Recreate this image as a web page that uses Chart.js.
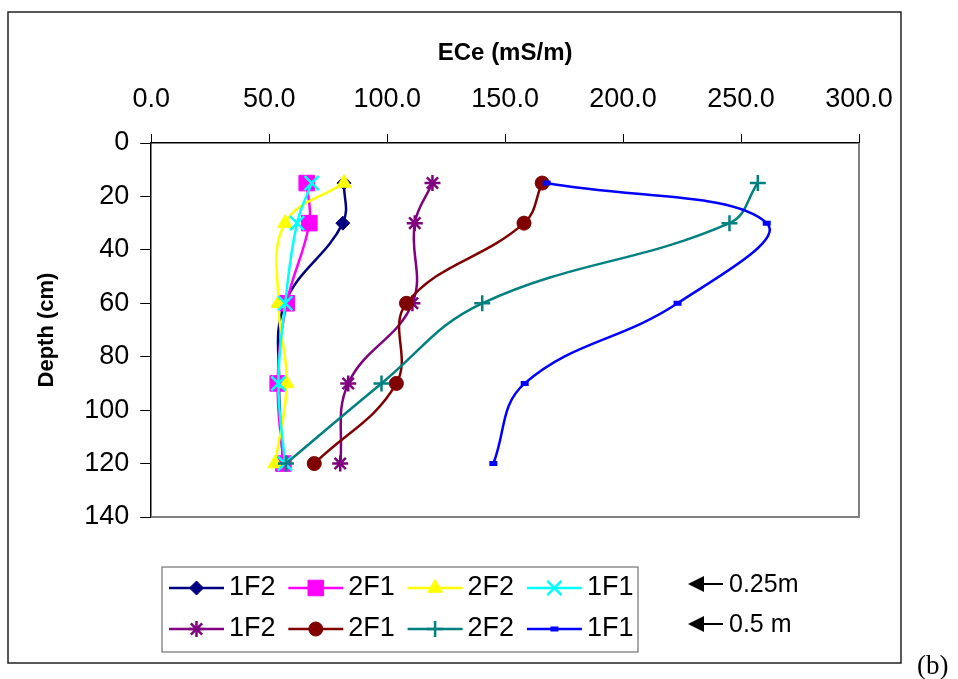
<!DOCTYPE html>
<html>
<head>
<meta charset="utf-8">
<script src="https://cdn.jsdelivr.net/npm/chart.js@4/dist/chart.umd.min.js"></script>
<style>
  html, body { margin: 0; padding: 0; background: #fff; }
  #wrap { position: relative; width: 958px; height: 679px; }
</style>
</head>
<body>
<div id="wrap"><canvas id="ecChart" width="958" height="679"></canvas></div>
<script>
// depth of each sample (cm)
var depths = [15, 30, 60, 90, 120];

// ECe (mS/m), 0.25 m series then 0.5 m series
var ece1F2_025 = [81.7, 81.2, 56.7, 54.2, 55.9];
var ece2F1_025 = [65.9, 67.0, 57.4, 53.6, 56.0];
var ece2F2_025 = [81.7, 56.7, 53.9, 57.4, 52.5];
var ece1F1_025 = [68.0, 61.8, 56.8, 53.9, 56.7];
var ece1F2_05  = [119.2, 111.7, 110.7, 83.5, 80.1];
var ece2F1_05  = [165.7, 158.0, 108.2, 103.9, 69.1];
var ece2F2_05  = [257.1, 245.1, 140.3, 97.6, 57.1];
var ece1F1_05  = [167.6, 260.9, 223.1, 158.3, 145.0];

var seriesNames = ['1F2', '2F1', '2F2', '1F1', '1F2', '2F1', '2F2', '1F1'];
var xTicks = [0, 50, 100, 150, 200, 250, 300];
var yTicks = [0, 20, 40, 60, 80, 100, 120, 140];
var notes = ['0.25m', '0.5 m'];

var FONT = "'Liberation Sans', Arial, sans-serif";

function pts(vals) {
  return vals.map(function (v, i) { return { x: v, y: depths[i] }; });
}

var nSet = 0;
function mkSet(label, vals, color, style, radius, pbw) {
  nSet++;
  return {
    label: label,
    data: pts(vals),
    order: 20 - nSet, // later series drawn on top, like the original
    borderColor: color,
    backgroundColor: color,
    borderWidth: 2.5,
    pointStyle: style,
    pointRadius: radius,
    pointHoverRadius: radius,
    pointBackgroundColor: color,
    pointBorderColor: color,
    pointBorderWidth: pbw,
    tension: 0.4,
    fill: false
  };
}

var datasets = [
  mkSet(seriesNames[0], ece1F2_025, '#000080', 'rectRot', 7, 1),
  mkSet(seriesNames[1], ece2F1_025, '#FF00FF', 'rect', 11, 1),
  mkSet(seriesNames[2], ece2F2_025, '#FFFF00', 'triangle', 8.5, 1),
  mkSet(seriesNames[3], ece1F1_025, '#00FFFF', 'crossRot', 10, 2.5),
  mkSet(seriesNames[4], ece1F2_05,  '#800080', 'star', 8, 2.5),
  mkSet(seriesNames[5], ece2F1_05,  '#800000', 'circle', 7, 1),
  mkSet(seriesNames[6], ece2F2_05,  '#008080', 'cross', 8, 2.5),
  mkSet(seriesNames[7], ece1F1_05,  '#0000FF', 'line', 4, 5)
];

var decorPlugin = {
  id: 'decor',
  beforeDraw: function (chart) {
    var c = chart.ctx;
    c.save();
    c.fillStyle = '#fff';
    c.fillRect(0, 0, chart.width, chart.height);
    c.restore();
  },
  beforeDatasetsDraw: function (chart) {
    var c = chart.ctx, a = chart.chartArea;
    c.save();
    c.strokeStyle = '#808080';
    c.lineWidth = 2;
    c.beginPath();
    c.moveTo(a.right, a.top);
    c.lineTo(a.right, a.bottom);
    c.lineTo(a.left, a.bottom);
    c.stroke();
    c.restore();
  },
  afterDraw: function (chart) {
    var c = chart.ctx;
    c.save();
    // outer frame
    c.strokeStyle = '#222';
    c.lineWidth = 1.5;
    c.strokeRect(8, 12, 893, 651);

    // legend box
    c.strokeStyle = '#555';
    c.lineWidth = 1;
    c.strokeRect(162, 567, 476, 85);
    c.font = '27px ' + FONT;
    c.textBaseline = 'middle';
    c.textAlign = 'left';
    chart.data.datasets.forEach(function (ds, i) {
      var col = i % 4, row = Math.floor(i / 4);
      var x0 = 169 + col * 119.3, y0 = 588 + row * 41;
      c.strokeStyle = ds.borderColor;
      c.lineWidth = ds.borderWidth;
      c.beginPath();
      c.moveTo(x0, y0);
      c.lineTo(x0 + 55, y0);
      c.stroke();
      c.fillStyle = ds.pointBackgroundColor;
      c.strokeStyle = ds.pointBorderColor;
      c.lineWidth = ds.pointBorderWidth;
      Chart.helpers.drawPoint(c, {
        pointStyle: ds.pointStyle,
        radius: ds.pointRadius,
        borderWidth: ds.pointBorderWidth,
        rotation: 0
      }, x0 + 27.5, y0);
      c.fillStyle = '#000';
      c.fillText(ds.label, x0 + 60, y0);
    });

    // arrows with depth notes
    c.fillStyle = '#000';
    c.strokeStyle = '#000';
    notes.forEach(function (t, i) {
      var y = 584 + i * 40;
      c.beginPath();
      c.moveTo(688, y);
      c.lineTo(704, y - 8);
      c.lineTo(704, y + 8);
      c.closePath();
      c.fill();
      c.lineWidth = 2;
      c.beginPath();
      c.moveTo(703, y);
      c.lineTo(723, y);
      c.stroke();
      c.font = '25px ' + FONT;
      c.textBaseline = 'middle';
      c.fillText(t, 729, y + 1);
    });

    c.font = "27px 'Liberation Serif', 'Times New Roman', serif";
    c.textBaseline = 'alphabetic';
    c.fillText('(b)', 917, 674);
    c.restore();
  }
};

var ctx = document.getElementById('ecChart').getContext('2d');
new Chart(ctx, {
  type: 'line',
  data: { datasets: datasets },
  options: {
    responsive: false,
    animation: false,
    events: [],
    layout: { padding: { left: 33.8, top: 38.8, right: 99, bottom: 162 } },
    plugins: {
      legend: { display: false },
      tooltip: { enabled: false }
    },
    scales: {
      x: {
        type: 'linear',
        position: 'top',
        min: 0,
        max: 300,
        afterBuildTicks: function (s) { s.ticks = xTicks.map(function (v) { return { value: v }; }); },
        ticks: {
          color: '#000',
          padding: 18,
          maxRotation: 0,
          font: { family: FONT, size: 27 },
          callback: function (v) { return Number(v).toFixed(1); }
        },
        grid: { drawOnChartArea: false, drawTicks: true, tickLength: 9, color: '#000', tickWidth: 1 },
        border: { display: true, color: '#000', width: 1.5 },
        title: {
          display: true,
          text: 'ECe (mS/m)',
          color: '#000',
          font: { family: FONT, size: 24, weight: 'bold' },
          padding: { top: 0, bottom: -2 }
        }
      },
      y: {
        type: 'linear',
        reverse: true,
        min: 0,
        max: 140,
        afterBuildTicks: function (s) { s.ticks = yTicks.map(function (v) { return { value: v }; }); },
        ticks: {
          color: '#000',
          padding: 11,
          font: { family: FONT, size: 27 }
        },
        grid: { drawOnChartArea: false, drawTicks: true, tickLength: 11, color: '#000', tickWidth: 1 },
        border: { display: true, color: '#000', width: 1.5 },
        title: {
          display: true,
          text: 'Depth (cm)',
          color: '#000',
          font: { family: FONT, size: 22, weight: 'bold' },
          padding: { top: 0, bottom: 13 }
        }
      }
    }
  },
  plugins: [decorPlugin]
});
</script>
</body>
</html>
